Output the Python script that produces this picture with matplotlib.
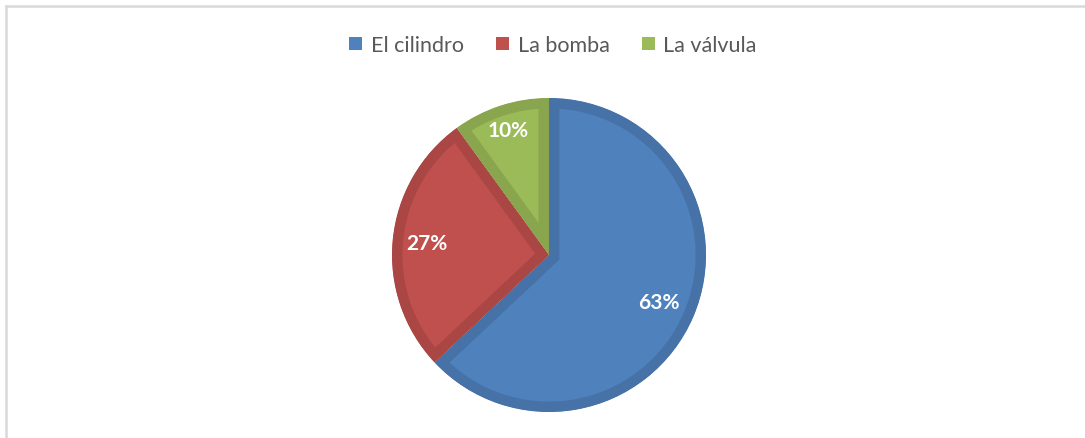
import numpy as np
import matplotlib.pyplot as plt
from matplotlib.lines import Line2D
from matplotlib.patches import Patch

labels = ['El cilindro', 'La bomba', 'La válvula']
shares = [63, 27, 10]
face_colors = ['#4F81BD', '#C0504D', '#9BBB59']
edge_colors = ['#4672A8', '#AA4643', '#89A54E']
label_dist = [0.76, 0.78, 0.84]

fig = plt.figure(figsize=(10.85, 4.39), dpi=100)
ax = fig.add_axes([392 / 1085, 26 / 439, 314 / 1085, 314 / 439])

wedges, texts, autotexts = ax.pie(
    shares, colors=face_colors, startangle=90, counterclock=False,
    autopct='%1.0f%%', pctdistance=0.8, radius=1,
    wedgeprops=dict(linewidth=15, edgecolor='none'),
    textprops=dict(color='white', fontsize=15, fontweight='bold', family='Lato'))
# dark band drawn only inside each slice
for w, ec, t, d in zip(wedges, edge_colors, autotexts, label_dist):
    w.set_edgecolor(ec)
    w.set_clip_on(True)
    w.set_clip_path(w)
    mid = np.deg2rad((w.theta1 + w.theta2) / 2)
    t.set_position((d * np.cos(mid), d * np.sin(mid)))
ax.set_xlim(-1.0, 1.0)
ax.set_ylim(-1.0, 1.0)
ax.set_aspect('equal')
ax.axis('off')

handles = [Patch(facecolor=c, edgecolor='none') for c in face_colors]
fig.legend(handles, labels, loc='center', bbox_to_anchor=(553 / 1085, 1 - 46 / 439),
           ncol=3, frameon=False, handlelength=0.6, handleheight=0.6,
           handletextpad=0.4, columnspacing=1.5,
           prop=dict(family='Lato', size=15.5), labelcolor='#595959')

# chart frame
fig.add_artist(Line2D([6 / 1085, 1.0], [1 - 7 / 439, 1 - 7 / 439],
                      transform=fig.transFigure, color='#D9D9D9', lw=1.8))
fig.add_artist(Line2D([6 / 1085, 6 / 1085], [0, 1 - 7 / 439],
                      transform=fig.transFigure, color='#D9D9D9', lw=1.8))

fig.savefig('out.png', dpi=100)
